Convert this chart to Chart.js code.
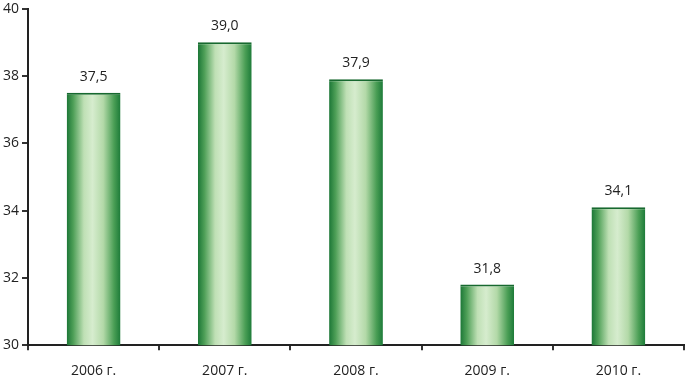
<!DOCTYPE html>
<html>
<head>
<meta charset="utf-8">
<script src="https://cdn.jsdelivr.net/npm/chart.js@4/dist/chart.umd.min.js"></script>
<style>
	html, body { margin: 0; padding: 0; background: #fff; }
	#wrap { width: 687px; height: 376px; }
</style>
</head>
<body>
<div id="wrap"><canvas id="barChart"></canvas></div>
<script>
/* -------------------- data -------------------- */

var years  = [ '2006 г.', '2007 г.', '2008 г.', '2009 г.', '2010 г.' ];
var values = [ 37.5, 39.0, 37.9, 31.8, 34.1 ];
var yTicks = [ 30, 32, 34, 36, 38, 40 ];

var catPercent = 0.82;
var barPercent = 0.5;

/* -------------------- gradient per bar -------------------- */

function barGradient(context) {
	var chart = context.chart;
	var xs = chart.scales.x;
	if (!xs || context.dataIndex === undefined) return '#4fa35a';
	var cx = xs.getPixelForValue(context.dataIndex);
	var w = xs.width / years.length * catPercent * barPercent;
	if (!isFinite(cx) || !isFinite(w) || w <= 0) return '#4fa35a';
	var g = chart.ctx.createLinearGradient(cx - w / 2, 0, cx + w / 2, 0);
	g.addColorStop(0,    '#1b7636');
	g.addColorStop(0.12, '#4e9f57');
	g.addColorStop(0.32, '#bfe0b5');
	g.addColorStop(0.48, '#d6ecce');
	g.addColorStop(0.68, '#b3d9a8');
	g.addColorStop(0.88, '#4a9e55');
	g.addColorStop(1,    '#1c7a38');
	return g;
}

/* -------------------- value labels -------------------- */

var valueLabels = {
	id: 'valueLabels',
	afterDatasetsDraw: function (chart) {
		var ctx = chart.ctx;
		var meta = chart.getDatasetMeta(0);
		ctx.save();
		ctx.font = '14px "Open Sans"';
		ctx.fillStyle = '#222';
		ctx.textAlign = 'center';
		ctx.textBaseline = 'bottom';
		meta.data.forEach(function (bar, i) {
			ctx.fillText(values[i].toFixed(1).replace('.', ','), bar.x, bar.y - 9);
		});
		ctx.restore();
	}
};

/* -------------------- chart -------------------- */

var ctx1 = document.getElementById('barChart').getContext('2d');

var barChart = new Chart(ctx1, {
	type: 'bar',
	data: {
		labels: years,
		datasets: [{
			data: values,
			backgroundColor: barGradient,
			borderColor: '#17692f',
			borderWidth: { top: 2, left: 0, right: 0, bottom: 0 },
			borderSkipped: false,
			categoryPercentage: catPercent,
			barPercentage: barPercent
		}]
	},
	options: {
		responsive: true,
		maintainAspectRatio: false,
		animation: false,
		layout: {
			padding: { left: 0, right: 3, top: 0, bottom: -15 }
		},
		plugins: {
			legend: { display: false },
			tooltip: { enabled: false }
		},
		scales: {
			x: {
				grid: {
					offset: true,
					drawOnChartArea: false,
					drawTicks: true,
					tickLength: 5,
					color: '#333',
					lineWidth: 2
				},
				border: { color: '#222', width: 2 },
				ticks: {
					color: '#222',
					font: { family: 'Open Sans', size: 14 },
					padding: 12
				}
			},
			y: {
				min: 30,
				max: 40,
				afterBuildTicks: function (axis) {
					axis.ticks = yTicks.map(function (v) { return { value: v }; });
				},
				grid: {
					drawOnChartArea: false,
					drawTicks: true,
					tickLength: 6,
					color: '#333',
					lineWidth: 2
				},
				border: { color: '#222', width: 2 },
				ticks: {
					color: '#222',
					font: { family: 'Open Sans', size: 14, lineHeight: 0.8 },
					padding: 3
				}
			}
		}
	},
	plugins: [ valueLabels ]
});
</script>
</body>
</html>
